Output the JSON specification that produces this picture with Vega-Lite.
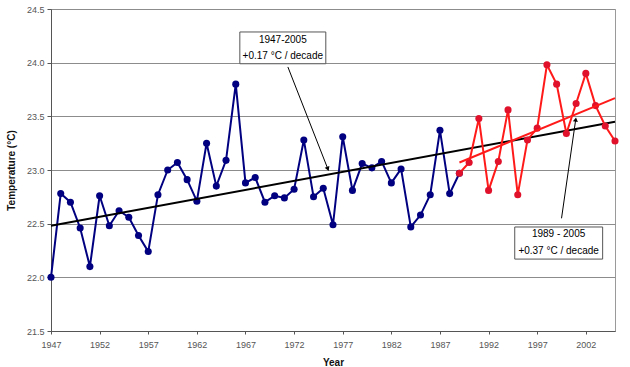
{
  "$schema": "https://vega.github.io/schema/vega-lite/v6.json",
  "autosize": "none",
  "width": 564,
  "height": 322,
  "padding": {"left": 51, "top": 9, "right": 15, "bottom": 36},
  "background": "white",
  "config": {
    "font": "Liberation Sans",
    "view": {"stroke": "#9a9a9a", "strokeWidth": 1},
    "axis": {
      "labelFont": "Liberation Sans",
      "labelFontSize": 9,
      "labelColor": "#555555",
      "titleFont": "Liberation Sans",
      "titleFontSize": 10,
      "titleFontWeight": "bold",
      "titleColor": "#111111",
      "domainColor": "#555555",
      "tickColor": "#555555",
      "gridColor": "#8c8c8c",
      "gridOpacity": 1
    }
  },
  "datasets": {
    "temps": [
      {"year": 1947, "temp": 22.0}, {"year": 1948, "temp": 22.78}, {"year": 1949, "temp": 22.70},
      {"year": 1950, "temp": 22.46}, {"year": 1951, "temp": 22.10}, {"year": 1952, "temp": 22.76},
      {"year": 1953, "temp": 22.48}, {"year": 1954, "temp": 22.62}, {"year": 1955, "temp": 22.56},
      {"year": 1956, "temp": 22.39}, {"year": 1957, "temp": 22.24}, {"year": 1958, "temp": 22.77},
      {"year": 1959, "temp": 23.00}, {"year": 1960, "temp": 23.07}, {"year": 1961, "temp": 22.91},
      {"year": 1962, "temp": 22.71}, {"year": 1963, "temp": 23.25}, {"year": 1964, "temp": 22.85},
      {"year": 1965, "temp": 23.09}, {"year": 1966, "temp": 23.80}, {"year": 1967, "temp": 22.88},
      {"year": 1968, "temp": 22.93}, {"year": 1969, "temp": 22.70}, {"year": 1970, "temp": 22.76},
      {"year": 1971, "temp": 22.74}, {"year": 1972, "temp": 22.82}, {"year": 1973, "temp": 23.28},
      {"year": 1974, "temp": 22.75}, {"year": 1975, "temp": 22.83}, {"year": 1976, "temp": 22.49},
      {"year": 1977, "temp": 23.31}, {"year": 1978, "temp": 22.81}, {"year": 1979, "temp": 23.06},
      {"year": 1980, "temp": 23.02}, {"year": 1981, "temp": 23.08}, {"year": 1982, "temp": 22.88},
      {"year": 1983, "temp": 23.01}, {"year": 1984, "temp": 22.47}, {"year": 1985, "temp": 22.58},
      {"year": 1986, "temp": 22.77}, {"year": 1987, "temp": 23.37}, {"year": 1988, "temp": 22.78},
      {"year": 1989, "temp": 22.97}, {"year": 1990, "temp": 23.07}, {"year": 1991, "temp": 23.48},
      {"year": 1992, "temp": 22.81}, {"year": 1993, "temp": 23.08}, {"year": 1994, "temp": 23.56},
      {"year": 1995, "temp": 22.77}, {"year": 1996, "temp": 23.28}, {"year": 1997, "temp": 23.39},
      {"year": 1998, "temp": 23.98}, {"year": 1999, "temp": 23.80}, {"year": 2000, "temp": 23.34},
      {"year": 2001, "temp": 23.62}, {"year": 2002, "temp": 23.90}, {"year": 2003, "temp": 23.60},
      {"year": 2004, "temp": 23.41}, {"year": 2005, "temp": 23.27}
    ],
    "trends": [
      {"trend": "all", "year": 1947, "temp": 22.48},
      {"trend": "all", "year": 2005, "temp": 23.45},
      {"trend": "recent", "year": 1989, "temp": 23.07},
      {"trend": "recent", "year": 2005, "temp": 23.67}
    ],
    "boxes": [
      {"id": "a", "x1": 1966.42, "x2": 1975.26, "y1": 24.286, "y2": 23.99},
      {"id": "b", "x1": 1994.69, "x2": 2003.73, "y1": 22.469, "y2": 22.17}
    ],
    "labels": [
      {"year": 1970.84, "temp": 24.21, "text": "1947-2005"},
      {"year": 1970.84, "temp": 24.06, "text": "+0.17 °C / decade"},
      {"year": 1999.2, "temp": 22.40, "text": "1989 - 2005"},
      {"year": 1999.2, "temp": 22.25, "text": "+0.37 °C / decade"}
    ],
    "arrows": [
      {"id": "a", "x1": 1971.36, "y1": 23.96, "x2": 1975.47, "y2": 23.01, "angle": 158.6},
      {"id": "b", "x1": 1999.5, "y1": 22.55, "x2": 2000.96, "y2": 23.47, "angle": 8.1}
    ]
  },
  "encoding": {
    "x": {
      "field": "year", "type": "quantitative",
      "scale": {"domain": [1947, 2005], "nice": false, "zero": false},
      "axis": {
        "title": "Year", "values": [1947, 1952, 1957, 1962, 1967, 1972, 1977, 1982, 1987, 1992, 1997, 2002],
        "format": "d", "grid": false, "tickSize": 3, "labelPadding": 6, "titlePadding": 8,
        "labelFlush": false, "labelOverlap": false, "labelBound": false
      }
    },
    "y": {
      "field": "temp", "type": "quantitative",
      "scale": {"domain": [21.5, 24.5], "nice": false, "zero": false},
      "axis": {
        "title": "Temperature (°C)", "values": [21.5, 22.0, 22.5, 23.0, 23.5, 24.0, 24.5],
        "format": ".1f", "grid": true, "tickSize": 4, "labelPadding": 3, "titlePadding": 10,
        "labelFlush": false, "labelOverlap": false
      }
    }
  },
  "layer": [
    {
      "data": {"name": "temps"},
      "transform": [{"filter": "datum.year <= 1989"}],
      "mark": {"type": "line", "color": "#000080", "strokeWidth": 2,
               "point": {"filled": true, "color": "#000080", "size": 50}}
    },
    {
      "data": {"name": "trends"},
      "transform": [{"filter": "datum.trend == 'all'"}],
      "mark": {"type": "line", "color": "#000000", "strokeWidth": 2}
    },
    {
      "data": {"name": "temps"},
      "transform": [{"filter": "datum.year >= 1989"}],
      "mark": {"type": "line", "color": "#ff1a1a", "strokeWidth": 2,
               "point": {"filled": true, "color": "#e0112b", "size": 50}}
    },
    {
      "data": {"name": "trends"},
      "transform": [{"filter": "datum.trend == 'recent'"}],
      "mark": {"type": "line", "color": "#ff1a1a", "strokeWidth": 2}
    },
    {
      "data": {"name": "arrows"},
      "mark": {"type": "rule", "color": "#000000", "strokeWidth": 1},
      "encoding": {
        "x": {"field": "x1", "type": "quantitative"},
        "y": {"field": "y1", "type": "quantitative"},
        "x2": {"field": "x2"},
        "y2": {"field": "y2"}
      }
    },
    {
      "data": {"name": "arrows"},
      "mark": {"type": "point", "shape": "triangle-up", "filled": true, "color": "#000000", "size": 25, "opacity": 1},
      "encoding": {
        "x": {"field": "x2", "type": "quantitative"},
        "y": {"field": "y2", "type": "quantitative"},
        "angle": {"field": "angle", "type": "quantitative", "scale": null}
      }
    },
    {
      "data": {"name": "boxes"},
      "mark": {"type": "rect", "fill": "white", "stroke": "#555555", "strokeWidth": 1},
      "encoding": {
        "x": {"field": "x1", "type": "quantitative"},
        "x2": {"field": "x2"},
        "y": {"field": "y1", "type": "quantitative"},
        "y2": {"field": "y2"}
      }
    },
    {
      "data": {"name": "labels"},
      "mark": {"type": "text", "fontSize": 10, "color": "#000000", "align": "center", "baseline": "middle", "font": "Liberation Sans"},
      "encoding": {
        "text": {"field": "text"}
      }
    }
  ]
}
